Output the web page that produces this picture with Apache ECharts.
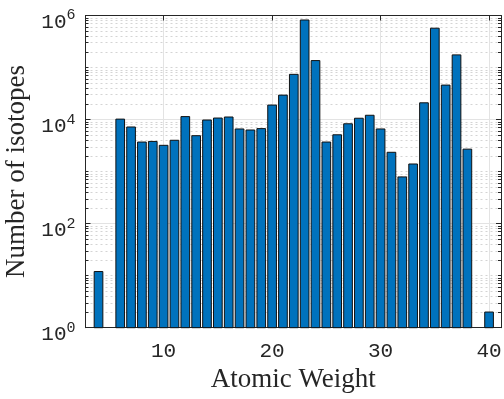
<!DOCTYPE html>
<html>
<head>
<meta charset="utf-8">
<script src="https://cdn.jsdelivr.net/npm/echarts@6/dist/echarts.min.js"></script>
<style>
  html, body { margin: 0; padding: 0; background: #fff; }
  #chart { width: 504px; height: 399px; }
</style>
</head>
<body>
<div id="chart"></div>
<script>
// Isotope counts per atomic weight (log scale)
const atomicWeights = [4, 6, 7, 8, 9, 10, 11, 12, 13, 14, 15, 16, 17, 18, 19, 20, 21, 22,
  23, 24, 25, 26, 27, 28, 29, 30, 31, 32, 33, 34, 35, 36, 37, 38, 40];
const isotopeCounts = [12, 10200, 7200, 3700, 3800, 3200, 4000, 11400, 4900, 9800, 10700,
  11200, 6600, 6300, 6700, 19000, 29500, 74000, 820000, 136000, 3700, 5100, 8300, 10600,
  12100, 6600, 2350, 790, 1400, 21000, 570000, 46000, 175000, 2700, 2];

const xTicks = [10, 20, 30, 40];
const xMin = 2.8, xMax = 41.1;
const yMin = 1, yMax = 1e6;
const barFraction = 0.8;   // bar width as a fraction of the unit spacing

// plot box layout
const W = 504, H = 399;
const gridLeft = 85.5, gridRight = 3, gridTop = 15.5, gridBottom = 71.3;
const pxPerUnit = (W - gridLeft - gridRight) / (xMax - xMin);

// minor log-grid values: 2..9 in every decade plus the unlabelled decades
const minorValues = [];
for (let k = 0; k < 6; k++) {
  const base = Math.pow(10, k);
  if (k % 2 === 1) minorValues.push(base);
  for (let m = 2; m <= 9; m++) minorValues.push(m * base);
}

const axisColor = '#262626';
const monoFont = 'Liberation Mono';
const serifFont = 'Liberation Serif';

const gridLines = [];
minorValues.forEach(v => gridLines.push({
  yAxis: v, lineStyle: { color: '#d4d4d4', type: [2, 3], width: 1 }
}));
xTicks.forEach(v => gridLines.push({
  xAxis: v, lineStyle: { color: '#e3e3e3', type: 'solid', width: 1 }
}));

// short inside ticks for the minor log values on both vertical edges
const tickLen = 3 / pxPerUnit;
const minorTicks = [];
minorValues.forEach(v => {
  minorTicks.push([{ coord: [xMin, v] }, { coord: [xMin + tickLen, v] }]);
  minorTicks.push([{ coord: [xMax - tickLen, v] }, { coord: [xMax, v] }]);
});

const barData = atomicWeights.map((w, i) => [w, isotopeCounts[i]]);

// bars rising from the bottom of the log axis
function renderBar(params, api) {
  const x = api.value(0);
  const v = api.value(1);
  const left = api.coord([x - barFraction / 2, v]);
  const right = api.coord([x + barFraction / 2, v]);
  const base = api.coord([x, yMin]);
  return {
    type: 'rect',
    shape: { x: left[0], y: left[1], width: right[0] - left[0], height: base[1] - left[1] },
    style: { fill: '#0072BD', stroke: '#111111', lineWidth: 1 }
  };
}

const chart = echarts.init(document.getElementById('chart'), null, { renderer: 'canvas' });
chart.setOption({
  animation: false,
  backgroundColor: '#ffffff',
  grid: { left: gridLeft, right: gridRight, top: gridTop, bottom: gridBottom,
    containLabel: false, outerBoundsMode: 'none' },
  xAxis: [{
    type: 'value', position: 'bottom', min: xMin, max: xMax,
    axisLine: { show: true, onZero: false, lineStyle: { color: axisColor, width: 1 } },
    axisTick: { show: true, inside: true, length: 5, customValues: xTicks,
      lineStyle: { color: axisColor } },
    axisLabel: { customValues: xTicks, margin: 13, color: axisColor,
      fontFamily: monoFont, fontSize: 21 },
    splitLine: { show: false },
    name: 'Atomic Weight', nameLocation: 'middle', nameGap: 36,
    nameTextStyle: { fontFamily: serifFont, fontSize: 27, color: axisColor }
  }, {
    type: 'value', position: 'top', min: xMin, max: xMax,
    axisLine: { show: true, onZero: false, lineStyle: { color: axisColor, width: 1 } },
    axisTick: { show: true, inside: true, length: 5, customValues: xTicks,
      lineStyle: { color: axisColor } },
    axisLabel: { show: false },
    splitLine: { show: false }
  }],
  yAxis: [{
    type: 'log', logBase: 10, min: yMin, max: yMax, interval: 2, position: 'left',
    axisLine: { show: true, onZero: false, lineStyle: { color: axisColor, width: 1 } },
    axisTick: { show: true, inside: true, length: 5, lineStyle: { color: axisColor } },
    axisLabel: {
      margin: 10, color: axisColor, padding: [10, 0, 0, 0],
      formatter: v => '{b|10}{s|' + Math.round(Math.log10(v)) + '}',
      rich: {
        b: { fontFamily: monoFont, fontSize: 21, color: axisColor, lineHeight: 25, verticalAlign: 'bottom' },
        s: { fontFamily: monoFont, fontSize: 15, color: axisColor, lineHeight: 15, verticalAlign: 'top' }
      }
    },
    splitLine: { show: true, lineStyle: { color: '#e3e3e3', width: 1 } },
    name: 'Number of isotopes', nameLocation: 'middle', nameGap: 52,
    nameTextStyle: { fontFamily: serifFont, fontSize: 27, color: axisColor }
  }, {
    type: 'log', logBase: 10, min: yMin, max: yMax, interval: 2, position: 'right',
    axisLine: { show: true, onZero: false, lineStyle: { color: axisColor, width: 1 } },
    axisTick: { show: true, inside: true, length: 5, lineStyle: { color: axisColor } },
    axisLabel: { show: false },
    splitLine: { show: false }
  }],
  series: [{
    // background grid layer
    type: 'scatter', xAxisIndex: 0, yAxisIndex: 0, z: 0, silent: true,
    symbolSize: 0, data: barData,
    markLine: { silent: true, symbol: 'none', label: { show: false }, animation: false,
      z: 0, data: gridLines }
  }, {
    type: 'custom', xAxisIndex: 0, yAxisIndex: 0, z: 2,
    renderItem: renderBar,
    encode: { x: 0, y: 1 },
    data: barData
  }, {
    // minor ticks on the frame
    type: 'scatter', xAxisIndex: 0, yAxisIndex: 0, z: 3, silent: true,
    symbolSize: 0, data: barData,
    markLine: { silent: true, symbol: 'none', label: { show: false }, animation: false,
      z: 5, lineStyle: { color: axisColor, type: 'solid', width: 1 },
      data: minorTicks }
  }]
});
</script>
</body>
</html>
